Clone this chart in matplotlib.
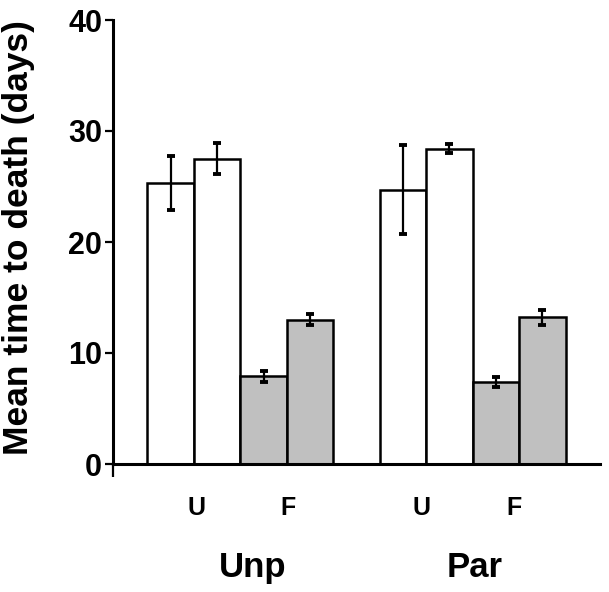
import numpy as np
import matplotlib
matplotlib.use("Agg")
import matplotlib.pyplot as plt

# --- data ---
groups = ["Unp", "Par"]
sub_labels = ["U", "F"]
unp_means = [25.3, 27.5, 7.9, 13.0]
unp_err = [2.45, 1.4, 0.5, 0.5]
par_means = [24.7, 28.4, 7.4, 13.2]
par_err = [4.0, 0.4, 0.45, 0.65]
bar_colors = ["white", "white", "#c0c0c0", "#c0c0c0"]

# layout (bar index units)
group_start = [0, 5]
sub_label_x = [[0.56, 2.53], [5.40, 7.39]]
group_label_x = [1.77, 6.55]

fig = plt.figure(figsize=(6.09, 5.92), dpi=100)
ax = fig.add_axes([113 / 609, 128 / 592, 487 / 609, 444 / 592])

for start, means, errs in zip(group_start, [unp_means, par_means], [unp_err, par_err]):
    x = start + np.arange(len(means))
    ax.bar(x, means, width=1.0, color=bar_colors, edgecolor="black", linewidth=1.8, zorder=2)
    ax.errorbar(x, means, yerr=errs, fmt="none", ecolor="black", elinewidth=1.6,
                capsize=2.9, capthick=2.8, zorder=3)

ax.set_xlim(-1.24, 9.24)
ax.set_ylim(0, 40)
ax.set_yticks([0, 10, 20, 30, 40])
ax.set_xticks([-1.24])
ax.set_xticklabels([])

for side in ["top", "right"]:
    ax.spines[side].set_visible(False)
for side in ["left", "bottom"]:
    ax.spines[side].set_linewidth(2.2)

ax.tick_params(axis="y", direction="out", length=5.8, width=1.6, pad=2)
ax.tick_params(axis="x", direction="out", length=9, width=1.6)
for lab in ax.get_yticklabels():
    lab.set_fontfamily("Liberation Sans")
    lab.set_fontweight("bold")
    lab.set_fontsize(22)

ax.set_ylabel("Mean time to death (days)", fontsize=25.5, fontweight="bold",
              family="Liberation Sans")
ax.yaxis.set_label_coords(-0.16, 0.51)

trans = ax.get_xaxis_transform()
for g, gname in enumerate(groups):
    for i, s in enumerate(sub_labels):
        ax.text(sub_label_x[g][i], -0.099, s, transform=trans, ha="center", va="center",
                fontsize=18, fontweight="bold", family="Liberation Sans")
    ax.text(group_label_x[g], -0.232, gname, transform=trans, ha="center", va="center",
            fontsize=25, fontweight="bold", family="Liberation Sans")

fig.savefig("out.png", dpi=100)
